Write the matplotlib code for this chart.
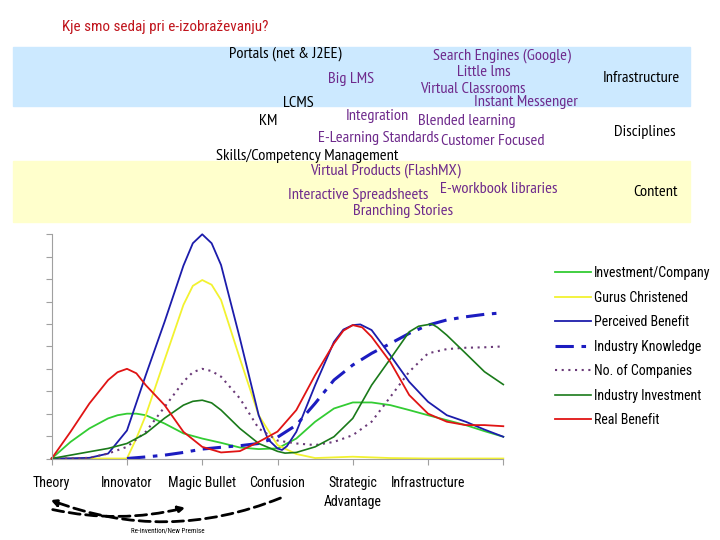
import matplotlib.pyplot as plt
from matplotlib.patches import Rectangle, FancyArrowPatch

W, H = 720, 540

# stages of the hype cycle
stages = ["Theory", "Innovator", "Magic Bullet", "Confusion", "Strategic\nAdvantage", "Infrastructure"]

# curves (x in stages, y in grid units 0..10)
investment_x = [0, 0.25, 0.5, 0.75, 0.875, 1, 1.125, 1.25, 1.5, 1.75, 2, 2.25, 2.5, 2.75, 3,
                3.25, 3.5, 3.75, 4, 4.25, 4.5, 4.75, 5, 5.25, 5.5, 5.75, 6]
investment_y = [0, 0.74, 1.34, 1.79, 1.93, 2.0, 2.0, 1.93, 1.56, 1.12, 0.89, 0.7, 0.49, 0.42, 0.45,
                0.89, 1.64, 2.23, 2.5, 2.5, 2.38, 2.16, 1.93, 1.71, 1.49, 1.22, 0.97]

gurus_x = [0, 1, 1.125, 1.25, 1.5, 1.75, 1.875, 2, 2.125, 2.25, 2.5, 2.75, 3, 3.25, 3.5,
           4, 4.5, 5, 6]
gurus_y = [0, 0, 0.9, 1.93, 4.4, 6.85, 7.7, 7.96, 7.75, 7.07, 4.46, 1.93, 0.6, 0.2, 0.02,
           0.08, 0.02, 0, 0]

perceived_x = [0, 0.25, 0.5, 0.75, 1, 1.25, 1.5, 1.75, 1.875, 2, 2.125, 2.25, 2.5, 2.75, 2.875,
               3, 3.06, 3.125, 3.25, 3.5, 3.75, 3.875, 4, 4.1, 4.25, 4.5, 4.75, 5, 5.25, 5.5,
               5.75, 6]
perceived_y = [0, 0.01, 0.03, 0.22, 1.25, 3.72, 6.1, 8.6, 9.6, 10.0, 9.6, 8.63, 5.36, 1.93, 0.85,
               0.45, 0.38, 0.55, 1.19, 3.27, 5.2, 5.75, 5.95, 5.98, 5.73, 4.6, 3.42, 2.53, 1.93, 1.64,
               1.29, 0.97]

knowledge_x = [1, 1.25, 1.5, 1.75, 2, 2.25, 2.5, 2.75, 3, 3.25, 3.5, 3.75, 4, 4.25, 4.5,
               4.75, 5, 5.25, 5.5, 5.75, 6]
knowledge_y = [0, 0.07, 0.15, 0.27, 0.42, 0.5, 0.57, 0.67, 0.95, 1.49, 2.46, 3.5, 4.17, 4.69, 5.13,
               5.58, 5.95, 6.18, 6.32, 6.43, 6.5]

companies_x = [0, 0.25, 0.5, 0.75, 1, 1.25, 1.5, 1.75, 1.875, 2, 2.125, 2.25, 2.5, 2.75, 3,
               3.25, 3.5, 3.75, 4, 4.25, 4.5, 4.75, 5, 5.25, 5.5, 5.75, 6]
companies_y = [0, 0, 0.03, 0.22, 0.52, 1.19, 2.3, 3.42, 3.85, 4.0, 3.9, 3.65, 2.68, 1.34, 0.8,
               0.67, 0.6, 0.74, 1.04, 1.64, 2.75, 3.87, 4.69, 4.88, 4.94, 4.96, 5.0]

industry_x = [0, 0.25, 0.5, 0.75, 1, 1.25, 1.5, 1.75, 1.875, 2, 2.125, 2.25, 2.5, 2.75, 3, 3.1,
              3.25, 3.5, 3.75, 4, 4.25, 4.5, 4.75, 4.875, 5.05, 5.125, 5.25, 5.5, 5.75, 6]
industry_y = [0, 0.15, 0.3, 0.45, 0.67, 1.12, 1.8, 2.38, 2.55, 2.6, 2.48, 2.16, 1.34, 0.67, 0.32, 0.24,
              0.27, 0.52, 0.97, 1.79, 3.27, 4.45, 5.65, 5.9, 6.0, 5.85, 5.5, 4.69, 3.87, 3.3]

real_x = [0, 0.25, 0.5, 0.75, 0.875, 1, 1.125, 1.25, 1.5, 1.75, 2, 2.25, 2.5, 2.75, 3,
          3.25, 3.5, 3.75, 3.875, 4, 4.125, 4.25, 4.5, 4.75, 5, 5.25, 5.5, 5.75, 6]
real_y = [0, 1.19, 2.45, 3.5, 3.85, 4.0, 3.8, 3.27, 2.38, 1.19, 0.52, 0.27, 0.33, 0.74, 1.2,
          2.16, 3.72, 5.13, 5.7, 5.95, 5.85, 5.43, 4.3, 2.83, 2.0, 1.64, 1.49, 1.49, 1.44]

# words in the three bands: (text, left x px, centre y px, purple?)
band_words = [
    ("Portals (net & J2EE)", 229, 54, False),
    ("Search Engines (Google)", 433, 56, True),
    ("Little lms", 457, 72, True),
    ("Big LMS", 328, 79, True),
    ("Virtual Classrooms", 420, 89, True),
    ("LCMS", 283, 103, False),
    ("Instant Messenger", 474, 102, True),
    ("Integration", 346, 116, True),
    ("KM", 259, 121, False),
    ("Blended learning", 418, 121, True),
    ("E-Learning Standards", 318, 138, True),
    ("Customer Focused", 441, 141, True),
    ("Skills/Competency Management", 216, 156, False),
    ("Virtual Products (FlashMX)", 310, 171, True),
    ("E-workbook libraries", 440, 189, True),
    ("Interactive Spreadsheets", 288, 195, True),
    ("Branching Stories", 353, 211, True),
]
band_names = [("Infrastructure", 641, 78), ("Disciplines", 645, 132), ("Content", 656, 192)]

cond = ["Roboto Condensed", "Liberation Sans", "DejaVu Sans"]
narrow = ["PT Sans Narrow", "Roboto Condensed", "DejaVu Sans"]

fig = plt.figure(figsize=(7.2, 5.4), dpi=100)

def fx(x):
    return x / W

def fy(y):
    return 1 - y / H

# coloured bands
fig.patches.append(Rectangle((fx(13), fy(106)), fx(690 - 13), (106 - 47) / H,
                             transform=fig.transFigure, color="#cce9ff", zorder=0))
fig.patches.append(Rectangle((fx(13), fy(222)), fx(690 - 13), (222 - 161) / H,
                             transform=fig.transFigure, color="#ffffcc", zorder=0))

fig.text(fx(62), fy(27), "Kje smo sedaj pri e-izobraževanju?", color="#c0141c",
         fontsize=10.9, family=cond, va="center", ha="left")

for txt, x, y, purple in band_words:
    fig.text(fx(x), fy(y), txt, color="#6e2a8c" if purple else "black",
             fontsize=11.8, family=narrow, va="center", ha="left")
for txt, x, y in band_names:
    fig.text(fx(x), fy(y), txt, color="black", fontsize=11.8, family=narrow,
             va="center", ha="center")

ax = fig.add_axes([51.7 / W, 1 - 458.5 / H, (503.3 - 51.7) / W, (458.5 - 234.3) / H])
ax.plot(investment_x, investment_y, color="#33cc33", lw=1.3, label="Investment/Company", clip_on=False)
ax.plot(gurus_x, gurus_y, color="#f2f230", lw=1.3, label="Gurus Christened", clip_on=False)
ax.plot(perceived_x, perceived_y, color="#1c1cab", lw=1.3, label="Perceived Benefit", clip_on=False)
ax.plot(knowledge_x, knowledge_y, color="#1c1cc0", lw=2.2, ls=(0, (6, 2.5, 1.5, 2.5)),
        label="Industry Knowledge", clip_on=False)
ax.plot(companies_x, companies_y, color="#6a3a78", lw=1.5, ls=(0, (1, 2.2)),
        label="No. of Companies", clip_on=False)
ax.plot(industry_x, industry_y, color="#1a7a1a", lw=1.2, label="Industry Investment", clip_on=False)
ax.plot(real_x, real_y, color="#e01414", lw=1.3, label="Real Benefit", clip_on=False)

ax.set_xlim(0, 6)
ax.set_ylim(0, 10)
ax.set_xticks(range(7))
ax.set_xticklabels(stages + [""], family=cond, fontsize=10, linespacing=1.45)
ax.set_yticks(range(11))
ax.set_yticklabels([])
ax.tick_params(colors="#a0a0a0", length=4, width=0.8, labelcolor="black")
ax.tick_params(axis="x", pad=8.5)
for s in ["top", "right"]:
    ax.spines[s].set_visible(False)
for s in ["left", "bottom"]:
    ax.spines[s].set_color("#a0a0a0")
    ax.spines[s].set_linewidth(0.8)
ax.patch.set_alpha(0)

fig.legend(loc="upper left", bbox_to_anchor=(fx(555), fy(266)), frameon=False,
           prop={"family": cond, "size": 10}, handlelength=2.6, handletextpad=0.2,
           labelspacing=0.76, borderpad=0, borderaxespad=0)

# re-invention arrows under the axis
a1 = FancyArrowPatch((fx(50), fy(509)), (fx(188), fy(507)), transform=fig.transFigure,
                     connectionstyle="arc3,rad=0.12", arrowstyle="-|>", mutation_scale=10,
                     lw=2, ls=(0, (4, 2)), color="black")
a2 = FancyArrowPatch((fx(283), fy(497)), (fx(48), fy(499)), transform=fig.transFigure,
                     connectionstyle="arc3,rad=-0.2", arrowstyle="-|>", mutation_scale=10,
                     lw=2, ls=(0, (4, 2)), color="black")
fig.patches.extend([a1, a2])
fig.text(fx(168), fy(531), "Re-invention/New Premise", fontsize=5, ha="center", va="center",
         family=cond)

fig.savefig("out.png", dpi=100)
